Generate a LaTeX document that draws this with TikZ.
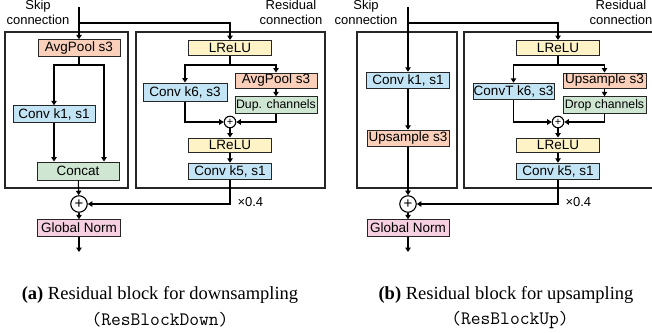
\documentclass[tikz,border=0pt]{standalone}
\usepackage{fontspec}
\setmainfont{Liberation Sans}
\newfontfamily\capfont{Liberation Serif}
\usetikzlibrary{arrows.meta}
\usetikzlibrary{positioning}
\definecolor{poolc}{HTML}{FAD0BA}
\definecolor{convc}{HTML}{C2E4F4}
\definecolor{chanc}{HTML}{CFE7D2}
\definecolor{actc}{HTML}{FDF3C6}
\definecolor{normc}{HTML}{F6CFE0}
\tikzset{arr/.style = {-{Triangle[length=4.5pt,width=5.5pt]}}}
\tikzset{blk/.style = {draw=black!85, line width=1pt, inner sep=0, minimum height=16.5pt,
                       font=\fontsize{13.5}{15}\selectfont}}
\tikzset{pool/.style = {blk, fill=poolc, minimum width=82pt}}
\tikzset{conv/.style = {blk, fill=convc, minimum width=83pt}}
\tikzset{chan/.style = {blk, fill=chanc, minimum width=82pt}}
\tikzset{narrow/.style = {font=\fontsize{12.3}{14}\selectfont}}
\tikzset{act/.style = {blk, fill=actc, minimum width=83pt, minimum height=15pt}}
\tikzset{norm/.style = {blk, fill=normc, minimum width=83pt}}
\tikzset{sum/.style = {draw, circle, fill=white, line width=1.1pt, inner sep=0,
                       minimum size=16.5pt, font=\fontsize{15}{15}\selectfont}}
\tikzset{smallsum/.style = {sum, minimum size=11.5pt, font=\fontsize{11}{11}\selectfont}}
\tikzset{frame/.style = {draw=black!85, line width=1.1pt}}
\tikzset{txt/.style = {align=center, inner sep=0, font=\fontsize{13}{15}\selectfont}}
\tikzset{captxt/.style = {inner sep=0, font=\capfont\fontsize{18.5}{22}\selectfont}}
\tikzset{captt/.style = {inner sep=0, font=\ttfamily\fontsize{19}{22}\selectfont}}

\begin{document}
\begin{tikzpicture}[x=1pt, y=-1pt, line width=1.1pt]
  \useasboundingbox (0,0) rectangle (652,332);
  \draw[frame] (5,32) rectangle (128,188);
  \draw[frame] (136,32) rectangle (325,188);
  \node[txt] (skipa) at (38,12) {Skip\\connection};
  \node[txt] (resa) at (291,12) {Residual\\connection};
  \coordinate (inA) at (79,7);
  \coordinate (splitA) at (79,23);
  \node[pool] (poolA) at (79,48) {AvgPool s3};
  \coordinate (brA) at (79,65);
  \coordinate (brA2) at (104,65);
  \node[conv, minimum width=82pt] (convA) at (54,114) {Conv k1, s1};
  \node[chan, minimum height=18pt] (catA) at (78,171) {Concat};
  \node[sum] (addA) at (79,204) {+};
  \node[norm] (normA) at (79,228) {Global Norm};
  \coordinate (outA) at (79,252);
  \node[act] (reluA) at (230,48) {LReLU};
  \coordinate (brR) at (230,65);
  \node[conv, minimum width=84pt, minimum height=18pt] (convA6) at (185,92) {Conv k6, s3};
  \node[pool, minimum height=15pt] (poolA2) at (276,80.5) {AvgPool s3};
  \node[chan, narrow] (dupA) at (276,105) {Dup. channels};
  \node[smallsum] (addA2) at (230,122) {+};
  \node[act, minimum height=14pt] (reluA2) at (230,145) {LReLU};
  \node[conv] (convA5) at (230,171.5) {Conv k5, s1};
  \node[txt, anchor=west] (scaleA) at (237,202) {×0.4};
  \draw[arr] (inA) -- (poolA);
  \draw[arr] (splitA) -| (reluA);
  \draw (poolA) -- (brA);
  \draw[arr] (brA) -| (convA);
  \draw[arr] (brA) -- (brA2) -- (brA2 |- catA.north);
  \draw[arr] (convA) -- (convA |- catA.north);
  \draw[arr] (catA) -- (addA);
  \draw[arr] (addA) -- (normA);
  \draw[arr] (normA) -- (outA);
  \draw (reluA) -- (brR);
  \draw[arr] (brR) -| (convA6);
  \draw[arr] (brR) -| (poolA2);
  \draw[arr] (poolA2) -- (dupA);
  \draw[arr] (convA6) |- (addA2);
  \draw[arr] (dupA) |- (addA2);
  \draw[arr] (addA2) -- (reluA2);
  \draw[arr] (reluA2) -- (convA5);
  \draw[arr] (convA5) |- (addA);
  \node[captxt] (capA) at (160,295) {\textbf{(a)} Residual block for downsampling};
  \node[captt] (capA2) at (160,320) {(ResBlockDown)};
  \draw[frame] (357,32) rectangle (457,188);
  \draw[frame] (464,32) rectangle (662,188);
  \node[txt] (skipb) at (366,12) {Skip\\connection};
  \node[txt] (resb) at (621,12) {Residual\\connection};
  \coordinate (inB) at (408,7);
  \coordinate (splitB) at (408,23);
  \node[conv] (convB) at (408,80.5) {Conv k1, s1};
  \node[pool] (upB) at (408,138.5) {Upsample s3};
  \node[sum] (addB) at (408,204) {+};
  \node[norm, minimum width=82pt] (normB) at (408,228) {Global Norm};
  \coordinate (outB) at (408,252);
  \node[act] (reluB) at (558,48) {LReLU};
  \coordinate (brS) at (558,65);
  \node[conv, minimum width=81pt] (convB6) at (513.5,91.5) {ConvT k6, s3};
  \node[pool, minimum width=83pt, minimum height=15pt] (upB2) at (604.5,80.5) {Upsample s3};
  \node[chan, narrow, minimum width=83pt] (dropB) at (604.5,105) {Drop channels};
  \node[smallsum] (addB2) at (558,122) {+};
  \node[act, minimum height=14pt] (reluB2) at (558,145) {LReLU};
  \node[conv] (convB5) at (558,171.5) {Conv k5, s1};
  \node[txt, anchor=west] (scaleB) at (565,202) {×0.4};
  \draw[arr] (inB) -- (convB);
  \draw[arr] (splitB) -| (reluB);
  \draw[arr] (convB) -- (upB);
  \draw[arr] (upB) -- (addB);
  \draw[arr] (addB) -- (normB);
  \draw[arr] (normB) -- (outB);
  \draw (reluB) -- (brS);
  \draw[arr] (brS) -| (convB6);
  \draw[arr] (brS) -| (upB2);
  \draw[arr] (upB2) -- (dropB);
  \draw[arr] (convB6) |- (addB2);
  \draw[arr] (dropB) |- (addB2);
  \draw[arr] (addB2) -- (reluB2);
  \draw[arr] (reluB2) -- (convB5);
  \draw[arr] (convB5) |- (addB);
  \node[captxt] (capB) at (506,295) {\textbf{(b)} Residual block for upsampling};
  \node[captt] (capB2) at (510,320) {(ResBlockUp)};
\end{tikzpicture}
\end{document}
